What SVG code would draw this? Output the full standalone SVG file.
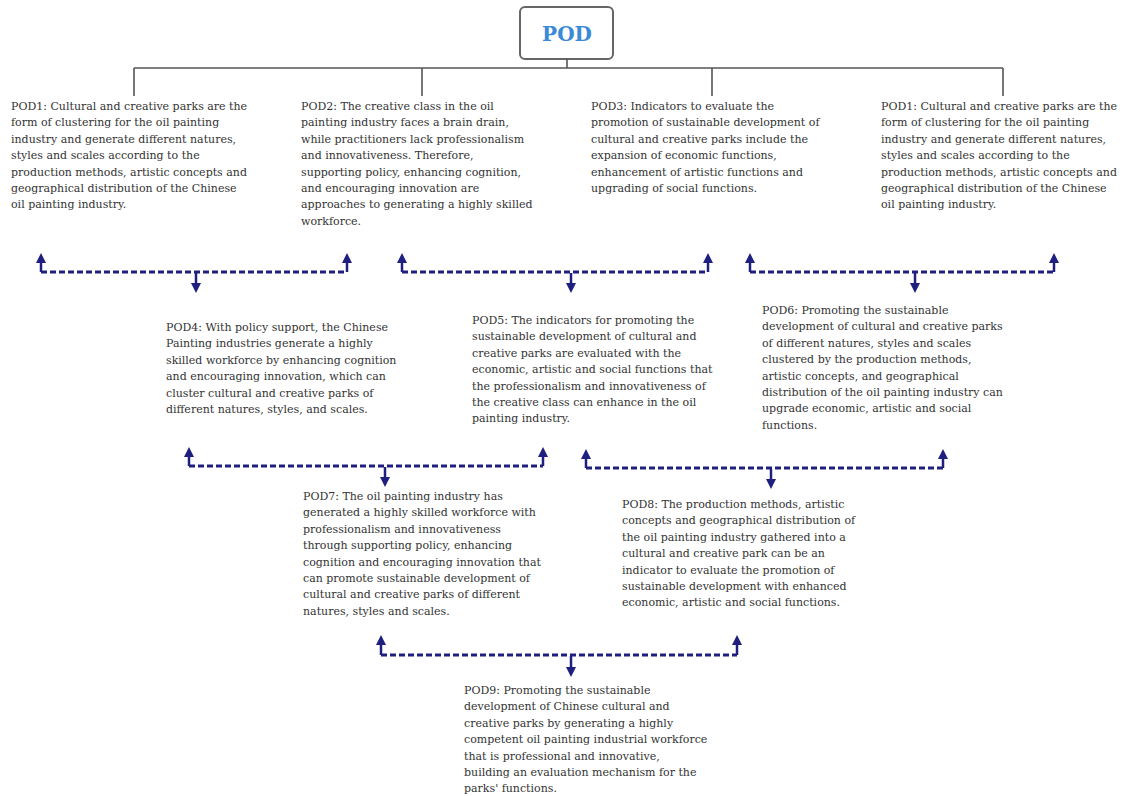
<svg xmlns="http://www.w3.org/2000/svg" width="1123" height="796" viewBox="0 0 1123 796">
<defs>
<style>
.t{font-family:"DejaVu Serif","Liberation Serif",serif;font-size:11px;fill:#333}
.tree{stroke:#555;stroke-width:1.6;fill:none}
.dash{stroke:#1f1f80;stroke-width:3;stroke-dasharray:6 3;fill:none}
.shaft{stroke:#1f1f80;stroke-width:2.5;fill:none}
</style>
<marker id="ah" viewBox="0 0 10 10" refX="0" refY="5" markerWidth="13" markerHeight="10" markerUnits="userSpaceOnUse" orient="auto">
<path d="M0,0 L10,5 L0,10 Z" fill="#1f1f80"/>
</marker>
</defs>
<rect width="1123" height="796" fill="#fff"/>
<g id="root">
<rect x="520" y="7" width="93" height="52" rx="5" fill="#fff" stroke="#666" stroke-width="2"/>
<text x="567" y="41" text-anchor="middle" font-family="DejaVu Serif,serif" font-weight="bold" font-size="20" fill="#3a8ad8">POD</text>
</g>
<g id="tree-lines">
<path class="tree" d="M567,59 V68 M134,68 H1003 M134,68 V96 M422,68 V96 M712,68 V96 M1003,68 V96"/>
</g>
<g id="pod1a">
<text class="t" x="11" y="110"><tspan x="11">POD1: Cultural and creative parks are the</tspan><tspan x="11" dy="16.4">form of clustering for the oil painting</tspan><tspan x="11" dy="16.4">industry and generate different natures,</tspan><tspan x="11" dy="16.4">styles and scales according to the</tspan><tspan x="11" dy="16.4">production methods, artistic concepts and</tspan><tspan x="11" dy="16.4">geographical distribution of the Chinese</tspan><tspan x="11" dy="16.4">oil painting industry.</tspan></text>
</g>
<g id="pod2">
<text class="t" x="301" y="110"><tspan x="301">POD2: The creative class in the oil</tspan><tspan x="301" dy="16.4">painting industry faces a brain drain,</tspan><tspan x="301" dy="16.4">while practitioners lack professionalism</tspan><tspan x="301" dy="16.4">and innovativeness. Therefore,</tspan><tspan x="301" dy="16.4">supporting policy, enhancing cognition,</tspan><tspan x="301" dy="16.4">and encouraging innovation are</tspan><tspan x="301" dy="16.4">approaches to generating a highly skilled</tspan><tspan x="301" dy="16.4">workforce.</tspan></text>
</g>
<g id="pod3">
<text class="t" x="591" y="110"><tspan x="591">POD3: Indicators to evaluate the</tspan><tspan x="591" dy="16.4">promotion of sustainable development of</tspan><tspan x="591" dy="16.4">cultural and creative parks include the</tspan><tspan x="591" dy="16.4">expansion of economic functions,</tspan><tspan x="591" dy="16.4">enhancement of artistic functions and</tspan><tspan x="591" dy="16.4">upgrading of social functions.</tspan></text>
</g>
<g id="pod1b">
<text class="t" x="881" y="110"><tspan x="881">POD1: Cultural and creative parks are the</tspan><tspan x="881" dy="16.4">form of clustering for the oil painting</tspan><tspan x="881" dy="16.4">industry and generate different natures,</tspan><tspan x="881" dy="16.4">styles and scales according to the</tspan><tspan x="881" dy="16.4">production methods, artistic concepts and</tspan><tspan x="881" dy="16.4">geographical distribution of the Chinese</tspan><tspan x="881" dy="16.4">oil painting industry.</tspan></text>
</g>
<g id="pod4">
<text class="t" x="166" y="331"><tspan x="166">POD4: With policy support, the Chinese</tspan><tspan x="166" dy="16.4">Painting industries generate a highly</tspan><tspan x="166" dy="16.4">skilled workforce by enhancing cognition</tspan><tspan x="166" dy="16.4">and encouraging innovation, which can</tspan><tspan x="166" dy="16.4">cluster cultural and creative parks of</tspan><tspan x="166" dy="16.4">different natures, styles, and scales.</tspan></text>
</g>
<g id="pod5">
<text class="t" x="472" y="324"><tspan x="472">POD5: The indicators for promoting the</tspan><tspan x="472" dy="16.4">sustainable development of cultural and</tspan><tspan x="472" dy="16.4">creative parks are evaluated with the</tspan><tspan x="472" dy="16.4">economic, artistic and social functions that</tspan><tspan x="472" dy="16.4">the professionalism and innovativeness of</tspan><tspan x="472" dy="16.4">the creative class can enhance in the oil</tspan><tspan x="472" dy="16.4">painting industry.</tspan></text>
</g>
<g id="pod6">
<text class="t" x="762" y="314"><tspan x="762">POD6: Promoting the sustainable</tspan><tspan x="762" dy="16.4">development of cultural and creative parks</tspan><tspan x="762" dy="16.4">of different natures, styles and scales</tspan><tspan x="762" dy="16.4">clustered by the production methods,</tspan><tspan x="762" dy="16.4">artistic concepts, and geographical</tspan><tspan x="762" dy="16.4">distribution of the oil painting industry can</tspan><tspan x="762" dy="16.4">upgrade economic, artistic and social</tspan><tspan x="762" dy="16.4">functions.</tspan></text>
</g>
<g id="pod7">
<text class="t" x="303" y="500"><tspan x="303">POD7: The oil painting industry has</tspan><tspan x="303" dy="16.4">generated a highly skilled workforce with</tspan><tspan x="303" dy="16.4">professionalism and innovativeness</tspan><tspan x="303" dy="16.4">through supporting policy, enhancing</tspan><tspan x="303" dy="16.4">cognition and encouraging innovation that</tspan><tspan x="303" dy="16.4">can promote sustainable development of</tspan><tspan x="303" dy="16.4">cultural and creative parks of different</tspan><tspan x="303" dy="16.4">natures, styles and scales.</tspan></text>
</g>
<g id="pod8">
<text class="t" x="622" y="508"><tspan x="622">POD8: The production methods, artistic</tspan><tspan x="622" dy="16.4">concepts and geographical distribution of</tspan><tspan x="622" dy="16.4">the oil painting industry gathered into a</tspan><tspan x="622" dy="16.4">cultural and creative park can be an</tspan><tspan x="622" dy="16.4">indicator to evaluate the promotion of</tspan><tspan x="622" dy="16.4">sustainable development with enhanced</tspan><tspan x="622" dy="16.4">economic, artistic and social functions.</tspan></text>
</g>
<g id="pod9">
<text class="t" x="464" y="694"><tspan x="464">POD9: Promoting the sustainable</tspan><tspan x="464" dy="16.4">development of Chinese cultural and</tspan><tspan x="464" dy="16.4">creative parks by generating a highly</tspan><tspan x="464" dy="16.4">competent oil painting industrial workforce</tspan><tspan x="464" dy="16.4">that is professional and innovative,</tspan><tspan x="464" dy="16.4">building an evaluation mechanism for the</tspan><tspan x="464" dy="16.4">parks' functions.</tspan></text>
</g>
<g id="connectors">
<path class="dash" d="M41,272 H347"/>
<path class="shaft" d="M41,272 V263" marker-end="url(#ah)"/>
<path class="shaft" d="M347,272 V263" marker-end="url(#ah)"/>
<path class="shaft" d="M196,273 V283" marker-end="url(#ah)"/>
<path class="dash" d="M402,272 H708"/>
<path class="shaft" d="M402,272 V263" marker-end="url(#ah)"/>
<path class="shaft" d="M708,272 V263" marker-end="url(#ah)"/>
<path class="shaft" d="M571,273 V283" marker-end="url(#ah)"/>
<path class="dash" d="M750,272 H1054"/>
<path class="shaft" d="M750,272 V263" marker-end="url(#ah)"/>
<path class="shaft" d="M1054,272 V263" marker-end="url(#ah)"/>
<path class="shaft" d="M915,273 V283" marker-end="url(#ah)"/>
<path class="dash" d="M189,466 H543"/>
<path class="shaft" d="M189,466 V457" marker-end="url(#ah)"/>
<path class="shaft" d="M543,466 V457" marker-end="url(#ah)"/>
<path class="shaft" d="M385,467 V477" marker-end="url(#ah)"/>
<path class="dash" d="M586,468 H943"/>
<path class="shaft" d="M586,468 V459" marker-end="url(#ah)"/>
<path class="shaft" d="M943,468 V459" marker-end="url(#ah)"/>
<path class="shaft" d="M771,469 V479" marker-end="url(#ah)"/>
<path class="dash" d="M381,655 H737"/>
<path class="shaft" d="M381,655 V645" marker-end="url(#ah)"/>
<path class="shaft" d="M737,655 V645" marker-end="url(#ah)"/>
<path class="shaft" d="M571,656 V667" marker-end="url(#ah)"/>
</g>
</svg>
